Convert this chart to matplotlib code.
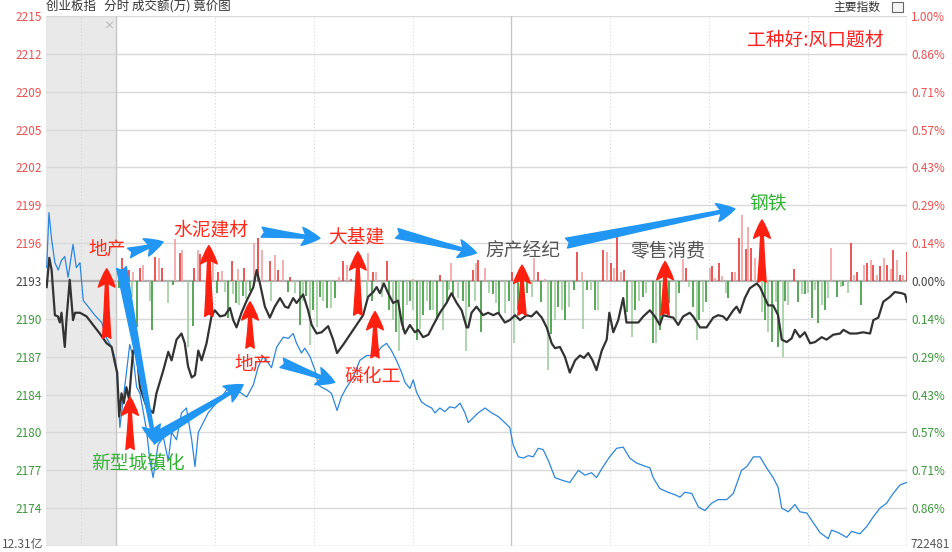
import matplotlib.pyplot as plt
from matplotlib.patches import Rectangle

plt.rcParams['font.family'] = ['Noto Sans CJK SC', 'DejaVu Sans']

# price axis: prior close and one grid step (index points)
base = 2193.3
step = 3.1
left_labels = ['2215', '2212', '2209', '2205', '2202', '2199', '2196', '2193',
               '2190', '2187', '2184', '2180', '2177', '2174', '']
right_labels = ['1.00%', '0.86%', '0.71%', '0.57%', '0.43%', '0.29%', '0.14%', '0.00%',
                '0.14%', '0.29%', '0.43%', '0.57%', '0.71%', '0.86%', '']
turnover_label = '12.31亿'
volume_label = '722481'

# minutes from the open (negative = call auction), index value
black_t = [-21.0, -20.2, -19.5, -18.5, -17.6, -17.0, -16.5, -15.5, -15.0, -14.0, -13.0, -12.4,
           -10.9, -8.9, -6.9, -4.9, -2.8, -1.3, -0.3,
           0.4, 1.0, 1.7, 2.4, 3.2, 4.0, 5.2, 6.3, 7.3, 9.3, 11.3, 12.3, 14.4, 15.9, 16.9, 18.4,
           19.9, 20.9, 21.9, 23.0, 24.0, 25.0, 26.0, 27.5, 29.0, 30.0, 31.6, 33.1, 34.6, 35.6,
           36.6, 38.1, 39.7, 41.7, 42.7, 43.7, 45.2, 46.7, 48.2, 49.8, 51.3, 52.3, 53.8, 54.8,
           56.8, 58.3, 59.4, 60.9, 62.4, 64.4, 65.9, 67.1, 69.0, 71.0, 73.0, 75.0, 76.5, 78.1,
           79.1, 80.1, 81.3, 82.6, 84.1, 85.6, 86.7, 87.7, 89.2, 90.7, 91.7, 93.2, 94.8, 96.3,
           98.3, 100.3, 101.8, 103.4, 104.9, 106.4, 106.9, 107.9, 109.4, 111.4, 112.9, 114.5,
           116.0, 118.0, 119.5, 121.1, 122.6, 124.6, 126.1, 127.6, 129.2, 130.7, 132.2, 133.2,
           134.7, 136.2, 137.7, 139.3, 140.8, 142.0, 143.3, 144.6, 145.8, 147.4, 148.9, 149.7,
           150.9, 152.4, 153.9, 154.9, 156.5, 158.5, 160.0, 162.0, 163.5, 165.0, 166.0, 167.6,
           169.1, 170.6, 172.1, 174.1, 175.1, 177.2, 179.2, 181.2, 182.7, 184.2, 185.3, 187.3,
           188.3, 189.3, 190.8, 192.3, 194.4, 195.4, 196.9, 197.9, 199.4, 200.9, 202.0, 203.5,
           205.0, 206.0, 207.5, 209.0, 210.6, 212.1, 214.1, 215.6, 217.6, 219.7, 220.7, 222.7,
           224.7, 226.7, 228.8, 229.8, 231.3, 232.8, 234.8, 236.3, 238.4, 239.4, 240.0]
black_v = [2192.8, 2195.2, 2194.2, 2190.5, 2190.4, 2189.9, 2190.7, 2187.9, 2190.1, 2193.4, 2190.1, 2190.7,
           2190.7, 2190.4, 2189.7, 2189.0, 2188.2, 2187.9, 2186.6,
           2185.8, 2182.2, 2184.1, 2183.3, 2184.6, 2183.6, 2187.6, 2187.4, 2184.6, 2183.0, 2182.5, 2184.1,
           2186.0, 2187.5, 2186.8, 2188.5,
           2189.0, 2188.2, 2186.3, 2185.4, 2185.6, 2187.6, 2186.8, 2188.2, 2190.4, 2190.9, 2190.4, 2190.5,
           2191.1, 2190.1,
           2189.5, 2190.7, 2191.7, 2192.8, 2194.2, 2193.1, 2191.2, 2190.3, 2191.2, 2191.9, 2191.2, 2191.1,
           2191.9, 2191.5,
           2192.2, 2190.9, 2189.7, 2189.0, 2189.1, 2189.6, 2188.5, 2187.4, 2188.1, 2188.9, 2189.7, 2190.5,
           2192.0, 2192.4,
           2192.8, 2192.3, 2193.1, 2192.3, 2191.5, 2191.7, 2189.9, 2189.0, 2189.7, 2189.1, 2189.3, 2188.7,
           2188.9, 2189.7,
           2190.7, 2191.5, 2192.3, 2191.5, 2190.9, 2189.5, 2189.5, 2190.7, 2191.2, 2190.5, 2190.7, 2190.5,
           2190.7, 2189.9, 2190.1, 2190.5, 2190.1, 2190.5, 2190.4, 2190.8, 2190.3, 2189.5, 2188.2, 2187.8,
           2187.9, 2187.1, 2185.8, 2186.8, 2187.2, 2187.0, 2187.4, 2186.8, 2186.0, 2187.6, 2188.5, 2190.7,
           2189.1, 2190.1, 2191.9, 2189.9, 2189.9, 2189.9, 2190.4, 2190.9, 2190.4, 2189.7, 2190.5, 2190.4,
           2190.3, 2189.7, 2190.4, 2190.7, 2190.4, 2189.5, 2189.5, 2190.3, 2190.5, 2190.4, 2190.1, 2190.9,
           2191.2, 2190.7, 2191.9, 2192.7, 2193.1, 2192.8, 2191.9, 2191.3, 2191.3, 2190.5, 2188.5, 2188.3,
           2188.6, 2189.3, 2188.7, 2189.1, 2188.2, 2188.3, 2188.7, 2188.5, 2188.9, 2189.0, 2189.3, 2189.0,
           2189.0, 2189.1, 2189.0, 2190.1, 2190.3, 2191.6, 2192.0, 2192.4, 2192.3, 2192.2, 2191.6]

blue_t = [-21.0, -20.3, -19.5, -18.5, -17.5, -16.5, -15.5, -14.5, -13.0, -12.0, -10.9, -9.9, -8.4,
          -6.4, -4.3, -2.8, -1.3, -0.3,
          0.4, 1.2, 2.2, 3.2, 4.2, 5.2, 6.3, 7.3, 9.3, 10.3, 11.3, 12.8, 14.4, 15.9, 16.9, 18.4,
          19.9, 21.4, 23.0, 24.0, 25.0, 26.5, 28.0, 29.5, 31.6, 33.6, 35.6, 37.6, 39.7, 41.7,
          43.2, 44.7, 46.2, 47.2, 48.8, 50.8, 52.3, 53.8, 54.8, 56.3, 57.3, 58.9, 60.4, 61.4,
          62.4, 63.9, 65.4, 67.1, 68.4, 70.0, 72.0, 74.0, 76.1, 78.6, 80.6, 82.1, 83.6, 85.1,
          86.7, 87.7, 89.2, 90.2, 91.2, 92.7, 94.3, 95.8, 96.8, 98.3, 99.8, 101.3, 102.9, 104.4,
          105.9, 106.9, 108.4, 109.9, 112.0, 114.0, 116.0, 118.0, 119.5, 120.5, 122.1, 123.6,
          125.1, 126.6, 128.1, 129.6, 131.2, 133.2, 135.2, 137.7, 140.3, 142.3, 144.3, 145.8,
          147.8, 149.8, 151.9, 153.9, 155.9, 157.9, 159.9, 162.0, 163.0, 165.0, 167.5, 169.6,
          171.1, 172.6, 174.7, 176.7, 178.7, 180.7, 182.7, 185.3, 187.3, 189.8, 191.4, 193.4,
          195.4, 197.4, 199.4, 200.9, 202.0, 204.0, 206.0, 207.5, 209.6, 211.6, 213.6, 216.1,
          217.1, 219.1, 221.7, 223.2, 225.7, 227.8, 229.8, 231.8, 233.8, 235.8, 237.9, 239.9]
blue_v = [2194.4, 2198.9, 2196.7, 2194.8, 2194.2, 2195.0, 2195.3, 2193.6, 2196.3, 2194.4, 2194.8, 2191.7, 2191.2,
          2190.5, 2189.9, 2188.6, 2187.9, 2187.0,
          2185.4, 2181.3, 2183.6, 2185.8, 2188.1, 2187.1, 2184.6, 2184.1, 2181.1, 2178.6, 2177.2, 2179.9,
          2180.5, 2178.6, 2180.9, 2180.3,
          2182.5, 2182.9, 2180.3, 2178.1, 2180.9, 2181.7, 2182.5, 2183.0, 2183.6, 2184.4, 2184.1, 2184.2,
          2183.8, 2184.8,
          2186.3, 2187.1, 2186.6, 2186.2, 2187.9, 2188.7, 2188.6, 2189.0, 2188.2, 2187.4, 2187.8, 2187.1,
          2186.0, 2184.8,
          2184.6, 2184.4, 2184.1, 2182.7, 2183.8, 2184.6, 2185.4, 2186.8, 2187.2, 2187.2, 2187.9, 2188.2,
          2187.6, 2186.8,
          2185.8, 2185.0, 2184.5, 2185.2, 2184.2, 2183.4, 2183.1, 2182.9, 2182.5, 2182.9, 2182.6, 2183.0,
          2182.9, 2183.3,
          2182.5, 2181.7, 2182.1, 2182.5, 2182.9, 2182.5, 2182.2, 2181.7, 2181.3, 2179.9, 2178.9, 2178.8,
          2179.0, 2178.9, 2179.6, 2179.5, 2178.6, 2177.2, 2177.0, 2176.8, 2177.8, 2177.4, 2177.6, 2177.2,
          2178.1, 2178.9, 2179.6, 2179.7, 2178.8, 2178.4, 2178.2, 2178.0, 2177.2, 2176.3, 2176.0, 2175.8,
          2175.6, 2176.0, 2175.9, 2174.8, 2174.5, 2175.1, 2175.4, 2175.4, 2175.9, 2177.8, 2178.1, 2178.9,
          2178.9, 2178.0, 2177.2, 2176.4, 2174.7, 2174.4, 2175.0, 2174.4, 2174.3, 2173.5, 2172.7, 2172.2,
          2172.9, 2172.7, 2172.3, 2172.8, 2172.6, 2173.2, 2174.0, 2174.7, 2175.1, 2175.9, 2176.6, 2176.8]

# bars measured from the zero line (index points): red above, green below
up_t = [2.0, 3.2, 4.0, 5.2, 7.3, 8.3, 12.0, 13.0, 14.0, 17.9, 19.4, 20.2, 23.8, 24.8, 25.5, 29.5,
        30.9, 32.2, 35.1, 37.0, 38.8, 41.9, 43.2, 44.2, 46.7, 48.2, 49.2, 50.8, 52.8, 67.7, 69.0,
        70.0, 71.2, 76.5, 78.1, 78.9, 82.1, 90.2, 98.3, 101.8, 108.2, 109.2, 109.9, 112.0, 120.1,
        126.8, 128.1, 130.2, 140.0, 141.3, 147.8, 148.9, 150.1, 151.1, 152.1, 153.1, 154.1, 172.1,
        173.0, 180.2, 180.9, 181.8, 183.0, 183.9, 187.0, 187.8, 189.1, 189.9, 191.1, 191.9, 192.7,
        193.9, 205.8, 216.8, 222.9, 223.9, 224.9, 226.9, 228.0, 229.0, 229.8, 231.0, 231.8, 233.0,
        234.0, 235.0, 235.8, 237.0, 237.9, 238.8, 239.9]
up_v = [1.9, 1.2, 0.9, 0.7, 1.1, 1.3, 2.0, 1.9, 1.1, 3.4, 2.3, 2.5, 1.1, 2.5, 2.2, 1.6,
        0.7, 0.8, 1.6, 1.0, 1.1, 3.1, 3.5, 2.5, 1.6, 2.1, 0.9, 1.7, 0.3, 0.3, 1.6,
        1.3, 0.2, 2.3, 0.7, 0.7, 1.6, 0.2, 0.5, 1.5, 0.9, 1.5, 1.7, 1.1, 0.7,
        1.9, 0.7, 0.2, 2.4, 0.7, 2.5, 2.4, 1.5, 1.1, 3.6, 0.7, 0.9, 1.8,
        1.1, 1.1, 1.2, 0.25, 1.5, 0.4, 0.7, 0.7, 3.5, 5.4, 2.6, 4.4, 2.7,
        1.9, 1.0, 2.7, 3.1, 0.5, 0.7, 1.3, 1.5, 1.7, 1.3, 0.5, 1.2, 1.9,
        1.3, 1.0, 2.5, 1.7, 0.5, 0.5, 2.4]
down_t = [0.9, 4.8, 6.3, 10.3, 11.1, 15.9, 17.2, 21.9, 23.3, 27.2, 30.6, 33.1, 34.1, 35.5, 36.4,
          37.4, 38.5, 39.4, 40.7, 47.2, 52.3, 54.3, 55.8, 56.8, 57.6, 58.9, 59.9, 60.9, 61.9, 62.9,
          63.9, 65.4, 66.4, 76.1, 77.6, 80.6, 82.9, 84.1, 85.1, 85.9, 87.1, 88.2, 89.2, 90.2, 91.2,
          92.2, 93.2, 94.3, 95.3, 96.3, 97.3, 99.1, 100.3, 101.1, 102.3, 103.9, 105.2, 106.2, 107.2,
          108.9, 110.9, 113.3, 114.5, 115.3, 116.3, 118.0, 119.3, 120.8, 122.1, 123.6, 124.6, 126.1,
          128.9, 131.2, 131.9, 133.2, 134.2, 135.2, 136.2, 137.5, 138.9, 141.8, 142.8, 144.0, 145.3,
          146.3, 155.2, 156.5, 157.5, 158.8, 159.8, 160.8, 162.8, 163.8, 165.0, 166.3, 167.9, 169.9,
          170.9, 174.0, 175.0, 176.2, 177.0, 178.0, 179.0, 185.0, 185.8, 195.9, 196.9, 197.9, 198.9,
          200.2, 200.9, 202.3, 203.0, 204.0, 207.0, 208.0, 209.0, 210.0, 211.1, 212.1, 213.1, 214.1,
          215.2, 216.0, 218.9, 219.9, 220.7, 222.0, 226.0]
down_v = [-0.6, -1.3, -3.8, -1.6, -4.0, -1.8, -0.3, -5.4, -3.7, -0.9, -1.0, -0.9, -3.0, -1.1, -1.8,
          -2.0, -1.2, -1.5, -0.8, -1.6, -0.9, -1.0, -3.6, -1.6, -1.2, -5.2, -2.4, -3.8, -1.3, -1.6,
          -2.2, -2.2, -1.4, -1.3, -1.6, -1.3, -2.4, -3.2, -4.2, -5.7, -4.0, -2.0, -1.6, -2.4, -4.8,
          -3.9, -2.8, -1.6, -2.4, -2.4, -3.0, -4.0, -1.6, -0.7, -1.3, -1.4, -1.6, -5.7, -2.1,
          -1.6, -4.2, -1.0, -1.1, -1.8, -2.6, -2.6, -1.6, -5.1, -2.4, -2.6, -1.0, -1.3,
          -1.7, -7.3, -4.3, -3.2, -2.1, -2.4, -3.2, -2.1, -0.7, -3.9, -0.7, -0.7, -2.4,
          -2.4, -2.5, -4.6, -2.4, -1.6, -1.3, -1.0, -5.1, -5.1, -4.0, -2.1, -1.8, -3.2,
          -1.0, -0.5, -2.1, -4.8, -3.2, -2.5, -1.7, -1.0, -1.4, -2.5, -3.2, -4.2, -5.0,
          -1.7, -5.4, -6.2, -1.6, -2.0, -1.7, -1.1, -1.1, -1.0, -3.0, -0.7, -3.4, -2.0,
          -2.4, -1.4, -1.3, -0.5, -0.4, -1.0, -2.0]

# sector notes: (text, minute, index, colour)
notes = [('地产', -2.7, 2195.9, '#ff2a1a'), ('水泥建材', 28.8, 2197.5, '#ff2a1a'),
         ('地产', 41.6, 2186.5, '#ff2a1a'), ('大基建', 73.1, 2196.9, '#ff2a1a'),
         ('磷化工', 78.0, 2185.4, '#ff2a1a'), ('房产经纪', 123.5, 2195.8, '#555555'),
         ('零售消费', 167.5, 2195.8, '#555555'), ('钢铁', 197.8, 2199.6, '#33b233'),
         ('新型城镇化', 6.7, 2178.4, '#33b233')]
# red up arrows: (minute, from, to)
red_arrows = [(-2.8, 2188.6, 2194.3), (4.3, 2179.5, 2183.8), (28.2, 2190.4, 2196.2),
              (40.7, 2187.8, 2191.6), (73.4, 2190.5, 2195.7), (78.6, 2187.0, 2190.8),
              (123.2, 2190.5, 2194.6), (166.6, 2190.5, 2194.9), (196.0, 2193.2, 2198.3)]
# blue arrows: (tail minute, tail index, head minute, head index)
blue_arrows = [(4.0, 2195.6, 14.3, 2196.5), (44.2, 2197.3, 61.9, 2196.8),
               (85.2, 2197.2, 109.4, 2195.6), (136.7, 2196.4, 187.8, 2199.2),
               (1.7, 2194.4, 11.8, 2180.0), (10.8, 2180.3, 38.6, 2184.8),
               (50.3, 2186.6, 66.4, 2185.0)]

fig = plt.figure(figsize=(9.53, 5.52), dpi=100)
ax = fig.add_axes([46 / 953, 6 / 552, 861 / 953, 530 / 552])

ax.set_xlim(-21.2, 240)
ax.set_ylim(base - 7 * step, base + 7 * step)
ticks = [base + k * step for k in range(7, -8, -1)]

# call-auction shading and grid
ax.axvspan(-21.2, 0, color='#e9e9e9', zorder=0)
for k, t in enumerate(ticks):
    if k == 7:
        ax.axhline(t, color='#b0b0b0', lw=1.6, zorder=1)
    else:
        ax.axhline(t, color='#d9d9d9', lw=1.0, zorder=1)
for m in [0, 120, 240]:
    ax.axvline(m, color='#c8c8c8', lw=1.0, zorder=1)
for m in [-10.6, 30, 60, 90, 150, 180, 210]:
    ax.axvline(m, color='#cfcfcf', lw=0.7, ls=(0, (1, 2.5)), zorder=1)

# bars
for i, (t, v) in enumerate(zip(up_t, up_v)):
    c = '#e83a3a' if i % 2 == 0 else '#f5a0a0'
    ax.vlines(t, base, base + v, color=c, lw=1.2, zorder=2)
for i, (t, v) in enumerate(zip(down_t, down_v)):
    c = '#3b9a3b' if i % 2 == 0 else '#9fd09f'
    ax.vlines(t, base + v, base, color=c, lw=1.2, zorder=2)

ax.plot(blue_t, blue_v, color='#2a86de', lw=0.9, zorder=3)
ax.plot(black_t, black_v, color='#333333', lw=1.6, zorder=4)

for x, y0, y1 in red_arrows:
    ax.annotate('', xy=(x, y1), xytext=(x, y0),
                arrowprops=dict(arrowstyle='fancy,head_length=1.1,head_width=1.0,tail_width=0.5',
                                color='#ff2010', mutation_scale=12, shrinkA=0, shrinkB=0), zorder=6)
for x0, y0, x1, y1 in blue_arrows:
    ax.annotate('', xy=(x1, y1), xytext=(x0, y0),
                arrowprops=dict(arrowstyle='fancy,head_length=1.0,head_width=1.0,tail_width=0.55',
                                color='#2196f3', mutation_scale=13, shrinkA=0, shrinkB=0), zorder=6)

for txt, x, y, c in notes:
    ax.text(x, y, txt, color=c, fontsize=13.5, ha='center', va='center', zorder=7)
ax.text(0.893, 0.955, '工种好:风口题材', transform=ax.transAxes, color='#ff2020',
        fontsize=13.5, ha='center', va='center')
ax.text(-2.2, base + 6.75 * step, '×', color='#aaaaaa', fontsize=8, ha='center', va='center')

# axis labels on both sides
label_colors = ['#f05050'] * 7 + ['#444444'] + ['#3a9a3a'] * 6 + ['#555555']
ax.set_yticks(ticks)
ax.set_yticklabels(left_labels, fontsize=8.5)
ax.set_xticks([])
ax2 = ax.twinx()
ax2.set_ylim(ax.get_ylim())
ax2.set_yticks(ticks)
ax2.set_yticklabels(right_labels, fontsize=8.5)
for a in (ax, ax2):
    a.tick_params(axis='y', length=0, pad=3)
    for lab, c in zip(a.get_yticklabels(), label_colors):
        lab.set_color(c)
    for s in a.spines.values():
        s.set_visible(False)

fig.text(43 / 953, 1 / 552, turnover_label, fontsize=8.5, color='#555555', ha='right', va='bottom')
fig.text(910 / 953, 1 / 552, volume_label, fontsize=8.5, color='#555555', ha='left', va='bottom')

fig.text(46 / 953, 1 - 6 / 552, '创业板指   分时 成交额(万) 竟价图', fontsize=9,
         color='#333333', va='center', ha='left')
fig.text(880 / 953, 1 - 7 / 552, '主要指数', fontsize=8.5, color='#333333', va='center', ha='right')
fig.patches.append(Rectangle((892 / 953, 1 - 12 / 552), 11 / 953, 10 / 552, transform=fig.transFigure,
                             facecolor='#f4f4f4', edgecolor='#666666', lw=0.8))

fig.savefig('out.png', dpi=100)
